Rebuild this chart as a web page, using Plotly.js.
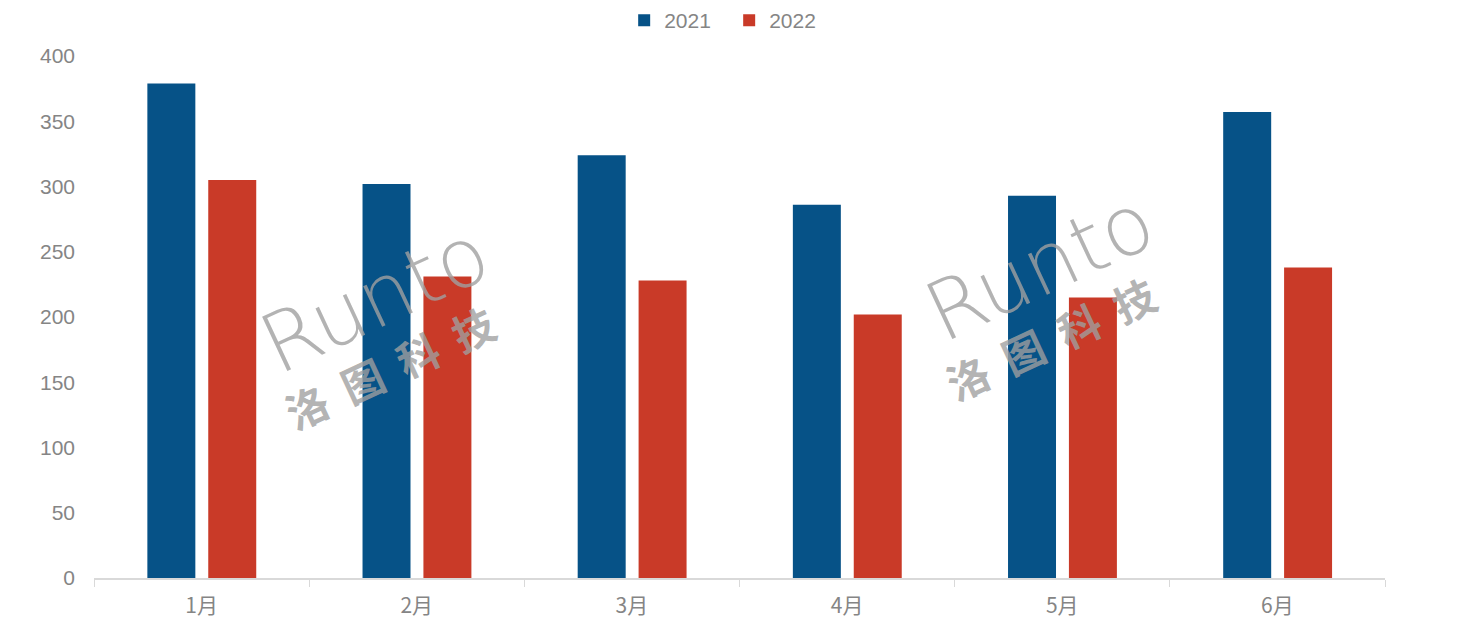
<!DOCTYPE html>
<html>
<head>
<meta charset="utf-8">
<script src="https://cdn.plot.ly/plotly-3.0.1.min.js"></script>
<style>html,body{margin:0;padding:0;background:#fff;}#chart{width:1461px;height:628px;}</style>
</head>
<body>
<div id="chart"></div>
<script>
const months = ['1月','2月','3月','4月','5月','6月'];
const sales2021 = [379, 302, 324, 286, 293, 357];
const sales2022 = [305, 231, 228, 202, 215, 238];
const yTicks = [0, 50, 100, 150, 200, 250, 300, 350, 400];

const gray = '#858585';
const traces = [
  {type:'bar', name:'2021', x:months, y:sales2021, marker:{color:'#065287'},
   width:0.223, offset:-0.252, hoverinfo:'x+y'},
  {type:'bar', name:'2022', x:months, y:sales2022, marker:{color:'#C93A28'},
   width:0.223, offset:0.031, hoverinfo:'x+y'}
];

const wm = 'rgba(160,160,160,0.8)';
const layout = {
  width:1461, height:628,
  margin:{l:94, r:76, t:56, b:50},
  paper_bgcolor:'#fff', plot_bgcolor:'#fff',
  font:{family:'Liberation Sans, Arial, sans-serif', color:gray, size:21},
  barmode:'group',
  showlegend:true,
  legend:{orientation:'h', x:0.492, xanchor:'center', y:1.0, yref:'container', yanchor:'top',
          font:{size:21, color:gray}, itemwidth:30, entrywidth:60, traceorder:'normal'},
  xaxis:{type:'category', showgrid:false, showline:true, linecolor:'#d9d9d9', linewidth:1.5,
         ticks:'outside', tickson:'boundaries', ticklen:7, tickcolor:'#d9d9d9', ticklabelstandoff:8,
         tickfont:{size:21, color:gray, family:'Noto Sans CJK SC, sans-serif'}, range:[-0.5,5.5], fixedrange:true},
  yaxis:{range:[0,400], tickvals:yTicks, showgrid:false, zeroline:false, showline:false,
         ticks:'', ticklabelstandoff:18, tickfont:{size:21, color:gray}, fixedrange:true},
  annotations:[
    {text:'Runto', xref:'paper', yref:'paper', x:0.218, y:0.535, xanchor:'center', yanchor:'middle', showarrow:false, textangle:-25,
     font:{size:82, color:wm, family:'DejaVu Sans', weight:300}},
    {text:'洛  图  科  技', xref:'paper', yref:'paper', x:0.229, y:0.405, xanchor:'center', yanchor:'middle', showarrow:false, textangle:-25,
     font:{size:42, color:wm, family:'Noto Sans CJK SC', weight:700}},
    {text:'Runto', xref:'paper', yref:'paper', x:0.733, y:0.596, xanchor:'center', yanchor:'middle', showarrow:false, textangle:-25,
     font:{size:82, color:wm, family:'DejaVu Sans', weight:300}},
    {text:'洛  图  科  技', xref:'paper', yref:'paper', x:0.741, y:0.46, xanchor:'center', yanchor:'middle', showarrow:false, textangle:-25,
     font:{size:42, color:wm, family:'Noto Sans CJK SC', weight:700}}
  ]
};
Plotly.newPlot('chart', traces, layout, {displayModeBar:false, staticPlot:true});
</script>
</body>
</html>
